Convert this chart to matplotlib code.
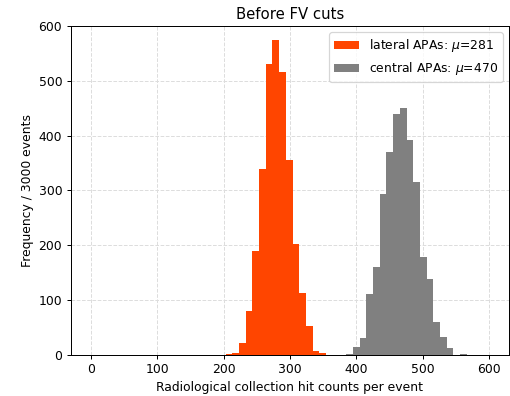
import numpy as np
import matplotlib
matplotlib.use("Agg")
import matplotlib.pyplot as plt

# shared bin edges (hit counts)
bin_edges = [203.0, 213.1, 223.2, 233.3, 243.4, 253.5, 263.6, 273.7, 283.8, 293.9,
             304.0, 314.1, 324.2, 334.3, 344.4, 354.5, 364.6, 374.7, 384.8, 394.9,
             405.0, 415.1, 425.2, 435.3, 445.4, 455.5, 465.6, 475.7, 485.8, 495.9,
             506.0, 516.1, 526.2, 536.3, 546.4, 556.5, 566.6]

# counts per bin
lateral_counts = [1, 3, 21, 80, 190, 340, 531, 574, 516, 355, 203, 113, 53, 7, 3,
                  0, 0, 0, 0, 0, 0, 0, 0, 0, 0, 0, 0, 0, 0, 0, 0, 0, 0, 0, 0, 0]
central_counts = [0, 0, 0, 0, 0, 0, 0, 0, 0, 0, 0, 0, 0, 0, 0, 0, 0, 0,
                  2, 15, 31, 111, 160, 294, 370, 440, 451, 392, 315, 179, 139, 59,
                  32, 12, 0, 2]

lateral_label = r"lateral APAs: $\mu$=281"
central_label = r"central APAs: $\mu$=470"

# the reference looks like a default figure shrunk a bit, so use a lower dpi
dpi = 89
fig = plt.figure(figsize=(510 / dpi, 396 / dpi), dpi=dpi)
ax = fig.add_axes([0.139, 0.104, 0.859, 0.830])

centers = 0.5 * (np.array(bin_edges[:-1]) + np.array(bin_edges[1:]))
ax.hist(centers, bins=bin_edges, weights=lateral_counts, color="orangered", label=lateral_label)
ax.hist(centers, bins=bin_edges, weights=central_counts, color="gray", label=central_label)

ax.set_xlim(-30, 630)
ax.set_ylim(0, 600)
ax.set_axisbelow(True)
ax.grid(True, linestyle="--", color="#dddddd", linewidth=0.8)
ax.set_title("Before FV cuts")
ax.set_xlabel("Radiological collection hit counts per event")
ax.set_ylabel("Frequency / 3000 events")
ax.legend(loc="upper right")

fig.savefig("out.png", dpi=dpi)
